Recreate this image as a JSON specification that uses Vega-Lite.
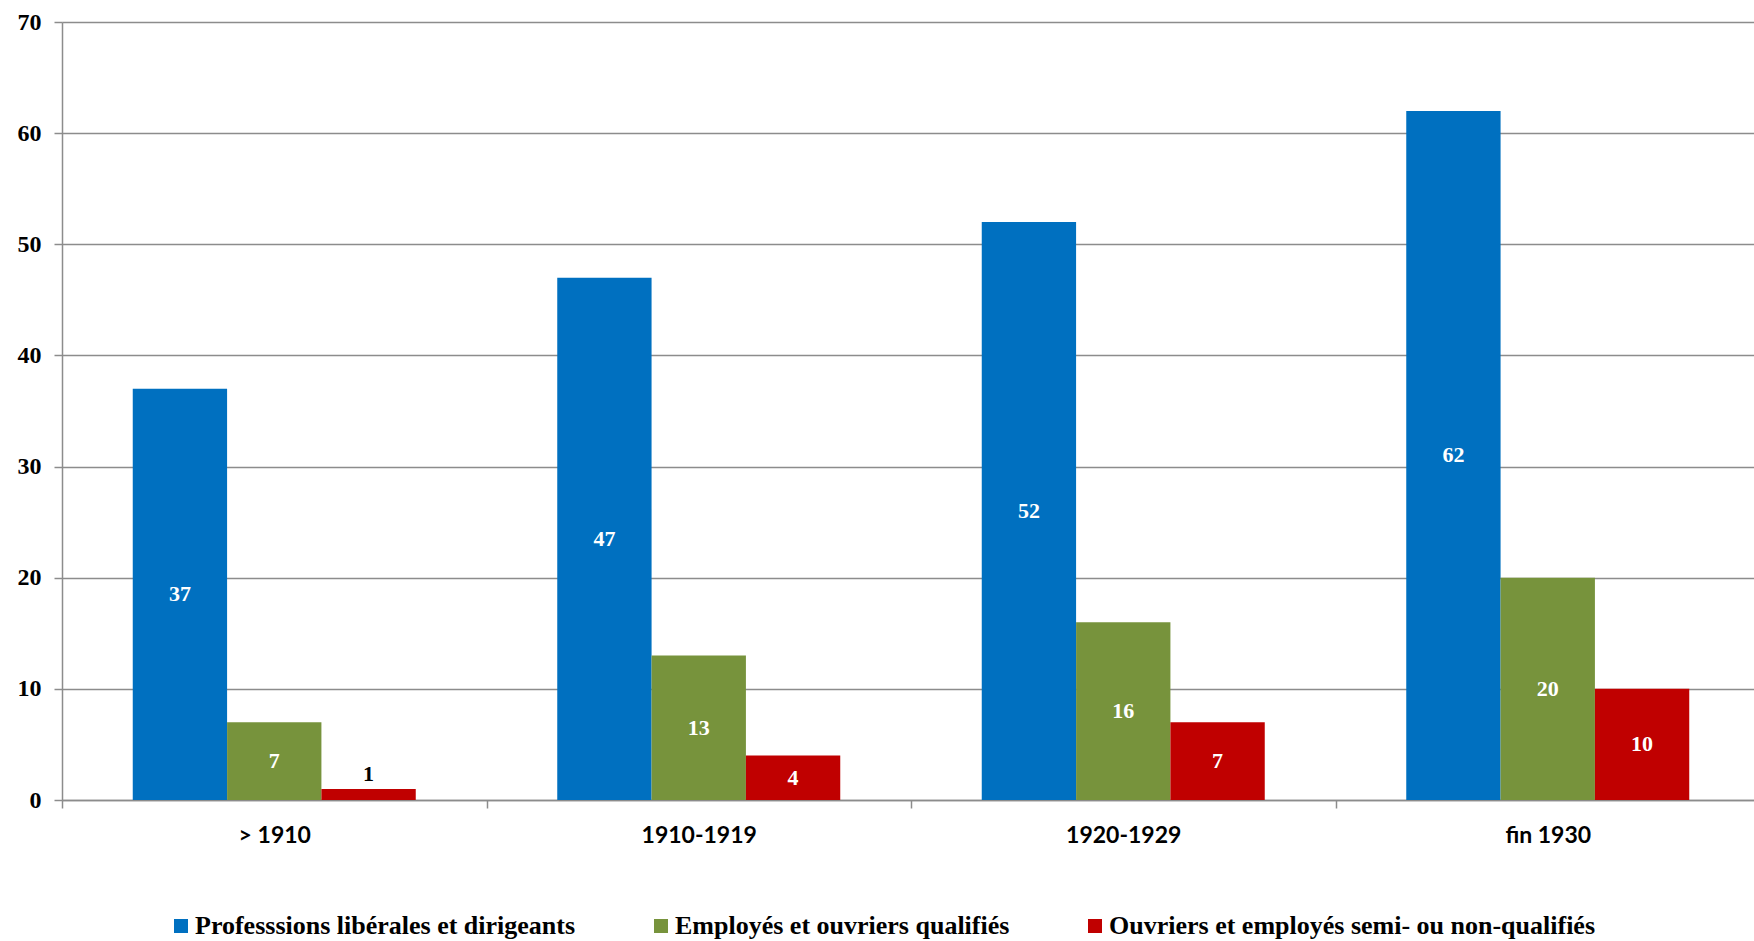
{
  "$schema": "https://vega.github.io/schema/vega-lite/v6.json",
  "width": 1692,
  "height": 778,
  "autosize": {"type": "none"},
  "padding": {"left": 62, "top": 22, "right": 0, "bottom": 141},
  "background": "white",
  "config": {"view": {"stroke": null}},
  "data": {
    "values": [
      {"period": "> 1910", "group": "Professsions libérales et dirigeants", "value": 37},
      {"period": "> 1910", "group": "Employés et ouvriers qualifiés", "value": 7},
      {"period": "> 1910", "group": "Ouvriers et employés semi- ou non-qualifiés", "value": 1},
      {"period": "1910-1919", "group": "Professsions libérales et dirigeants", "value": 47},
      {"period": "1910-1919", "group": "Employés et ouvriers qualifiés", "value": 13},
      {"period": "1910-1919", "group": "Ouvriers et employés semi- ou non-qualifiés", "value": 4},
      {"period": "1920-1929", "group": "Professsions libérales et dirigeants", "value": 52},
      {"period": "1920-1929", "group": "Employés et ouvriers qualifiés", "value": 16},
      {"period": "1920-1929", "group": "Ouvriers et employés semi- ou non-qualifiés", "value": 7},
      {"period": "fin 1930", "group": "Professsions libérales et dirigeants", "value": 62},
      {"period": "fin 1930", "group": "Employés et ouvriers qualifiés", "value": 20},
      {"period": "fin 1930", "group": "Ouvriers et employés semi- ou non-qualifiés", "value": 10}
    ]
  },
  "encoding": {
    "x": {
      "field": "period",
      "type": "nominal",
      "sort": ["> 1910", "1910-1919", "1920-1929", "fin 1930"],
      "scale": {"paddingInner": 0, "paddingOuter": 0, "range": [0, 1698]},
      "axis": {
        "title": null,
        "labelAngle": 0,
        "labelFont": "Lato",
        "labelFontWeight": "bold",
        "labelFontSize": 23,
        "labelColor": "#000000",
        "labelPadding": 16,
        "tickBand": "extent",
        "tickSize": 8,
        "tickColor": "#8c8c8c",
        "tickWidth": 1.5,
        "domainColor": "#8c8c8c",
        "domainWidth": 1.5,
        "grid": false
      }
    },
    "xOffset": {
      "field": "group",
      "sort": ["Professsions libérales et dirigeants", "Employés et ouvriers qualifiés", "Ouvriers et employés semi- ou non-qualifiés"],
      "scale": {"paddingInner": 0, "paddingOuter": 0.75}
    }
  },
  "layer": [
    {
      "mark": {"type": "bar"},
      "encoding": {
        "y": {
          "field": "value",
          "type": "quantitative",
          "scale": {"domain": [0, 70], "nice": false},
          "axis": {
            "title": null,
            "values": [0, 10, 20, 30, 40, 50, 60, 70],
            "labelFont": "Liberation Serif",
            "labelFontWeight": "bold",
            "labelFontSize": 24,
            "labelColor": "#000000",
            "labelPadding": 13,
            "tickSize": 8,
            "tickColor": "#8c8c8c",
            "tickWidth": 1.5,
            "domainColor": "#8c8c8c",
            "domainWidth": 1.5,
            "grid": true,
            "gridColor": "#8c8c8c",
            "gridWidth": 1.5
          }
        },
        "color": {
          "field": "group",
          "type": "nominal",
          "sort": ["Professsions libérales et dirigeants", "Employés et ouvriers qualifiés", "Ouvriers et employés semi- ou non-qualifiés"],
          "scale": {
            "domain": ["Professsions libérales et dirigeants", "Employés et ouvriers qualifiés", "Ouvriers et employés semi- ou non-qualifiés"],
            "range": ["#0070C0", "#77933C", "#C00000"]
          },
          "legend": {
            "title": null,
            "orient": "none",
            "direction": "horizontal",
            "legendX": 106,
            "legendY": 891,
            "symbolType": "square",
            "symbolSize": 196,
            "symbolStrokeWidth": 0,
            "labelFont": "Liberation Serif",
            "labelFontWeight": "bold",
            "labelFontSize": 26,
            "labelColor": "#000000",
            "labelLimit": 800,
            "labelOffset": 1,
            "columnPadding": 72
          }
        }
      }
    },
    {
      "transform": [{"filter": "datum.value >= 3"}],
      "mark": {
        "type": "text",
        "baseline": "middle",
        "align": "center",
        "font": "Liberation Serif",
        "fontWeight": "bold",
        "fontSize": 22,
        "color": "#ffffff"
      },
      "encoding": {
        "y": {"field": "value", "type": "quantitative", "scale": {"domain": [0, 140], "nice": false}, "axis": null},
        "text": {"field": "value", "type": "quantitative"}
      }
    },
    {
      "transform": [{"filter": "datum.value < 3"}],
      "mark": {
        "type": "text",
        "baseline": "alphabetic",
        "align": "center",
        "dy": -8,
        "font": "Liberation Serif",
        "fontWeight": "bold",
        "fontSize": 22,
        "color": "#000000"
      },
      "encoding": {
        "y": {"field": "value", "type": "quantitative", "scale": {"domain": [0, 70], "nice": false}, "axis": null},
        "text": {"field": "value", "type": "quantitative"}
      }
    }
  ],
  "resolve": {"scale": {"y": "independent"}}
}
